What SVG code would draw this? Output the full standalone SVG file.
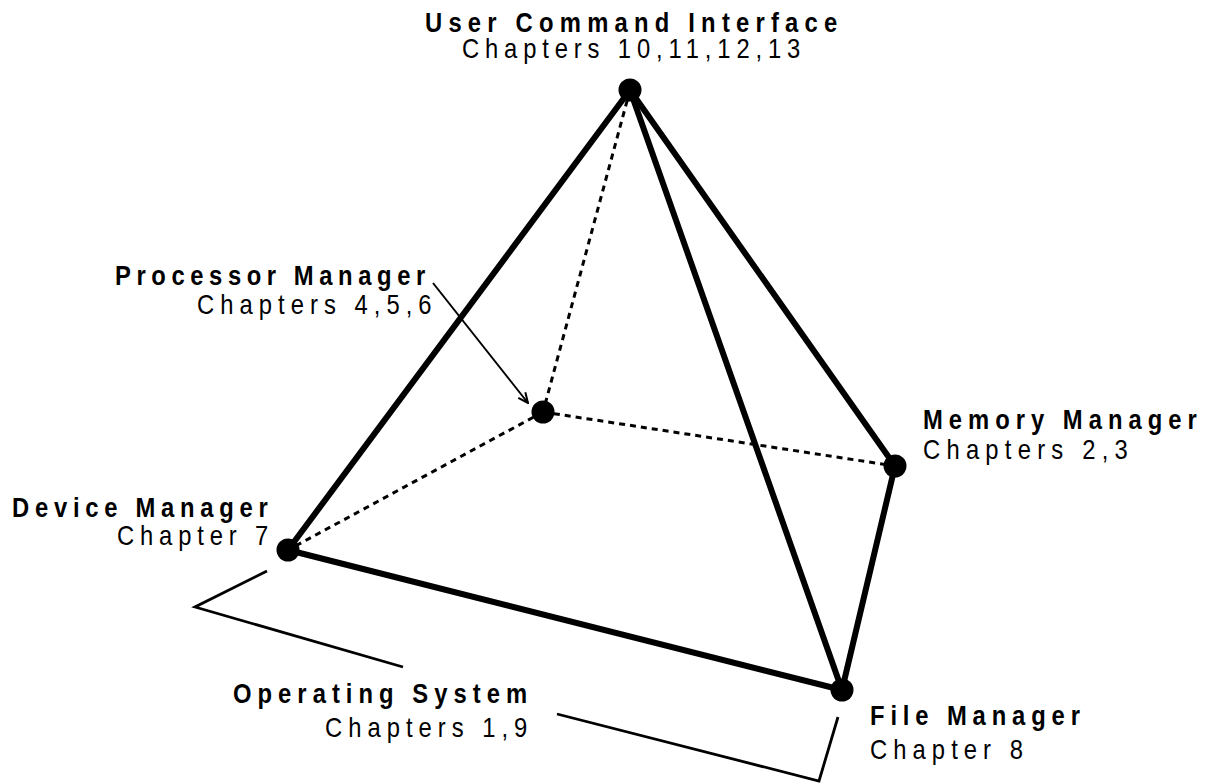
<svg xmlns="http://www.w3.org/2000/svg" width="1214" height="784" viewBox="0 0 1214 784">
<style>
.t{font-family:'Liberation Sans',Arial,sans-serif;font-size:28px;fill:#000}
.b{font-weight:bold}
.thick{stroke:#000;stroke-width:6;stroke-linecap:round;fill:none}
.dot{stroke:#000;stroke-width:3;stroke-dasharray:6 5;fill:none}
.thin{stroke:#000;stroke-width:2.8;fill:none}
.node{fill:#000}
</style>
<defs>
<marker id="ah" viewBox="0 0 12 12" refX="11" refY="6" markerWidth="12" markerHeight="12" markerUnits="userSpaceOnUse" orient="auto">
<path d="M1,1.5 L11,6 L1,10.5" fill="none" stroke="#000" stroke-width="2"/>
</marker>
</defs>
<rect width="1214" height="784" fill="#fff"/>
<g id="connectors">
<line class="dot" x1="630" y1="90" x2="543" y2="412"/>
<line class="dot" x1="543" y1="412" x2="895" y2="466"/>
<line class="dot" x1="543" y1="412" x2="288" y2="550"/>
<line class="thick" x1="630" y1="90" x2="288" y2="550"/>
<line class="thick" x1="630" y1="90" x2="895" y2="466"/>
<line class="thick" x1="630" y1="90" x2="842" y2="690"/>
<line class="thick" x1="895" y1="466" x2="842" y2="690"/>
<line class="thick" x1="288" y1="550" x2="842" y2="690"/>
<line x1="433" y1="283" x2="528" y2="403" stroke="#000" stroke-width="2" marker-end="url(#ah)"/>
<polyline class="thin" points="267,571 195,607 403,667"/>
<polyline class="thin" points="557,714 819,781 838,717"/>
</g>
<g id="user-command-interface">
<circle class="node" cx="630" cy="90" r="11.5"/>
<text class="t b" transform="translate(425,32) scale(0.85,1)" textLength="485" lengthAdjust="spacing">User Command Interface</text>
<text class="t" transform="translate(462,58) scale(0.85,1)" textLength="398" lengthAdjust="spacing">Chapters 10,11,12,13</text>
</g>
<g id="processor-manager">
<circle class="node" cx="543" cy="412" r="11.5"/>
<text class="t b" transform="translate(115,285) scale(0.85,1)" textLength="365" lengthAdjust="spacing">Processor Manager</text>
<text class="t" transform="translate(197,314) scale(0.85,1)" textLength="276" lengthAdjust="spacing">Chapters 4,5,6</text>
</g>
<g id="memory-manager">
<circle class="node" cx="895" cy="466" r="11.5"/>
<text class="t b" transform="translate(923,429) scale(0.85,1)" textLength="322" lengthAdjust="spacing">Memory Manager</text>
<text class="t" transform="translate(923,459) scale(0.85,1)" textLength="241" lengthAdjust="spacing">Chapters 2,3</text>
</g>
<g id="device-manager">
<circle class="node" cx="288" cy="550" r="11.5"/>
<text class="t b" transform="translate(12,517) scale(0.85,1)" textLength="301" lengthAdjust="spacing">Device Manager</text>
<text class="t" transform="translate(117,545) scale(0.85,1)" textLength="178" lengthAdjust="spacing">Chapter 7</text>
</g>
<g id="file-manager">
<circle class="node" cx="842" cy="690" r="11.5"/>
<text class="t b" transform="translate(870,725) scale(0.85,1)" textLength="247" lengthAdjust="spacing">File Manager</text>
<text class="t" transform="translate(870,759) scale(0.85,1)" textLength="180" lengthAdjust="spacing">Chapter 8</text>
</g>
<g id="operating-system">
<text class="t b" transform="translate(233,703) scale(0.85,1)" textLength="346" lengthAdjust="spacing">Operating System</text>
<text class="t" transform="translate(325,737) scale(0.85,1)" textLength="238" lengthAdjust="spacing">Chapters 1,9</text>
</g>
</svg>
